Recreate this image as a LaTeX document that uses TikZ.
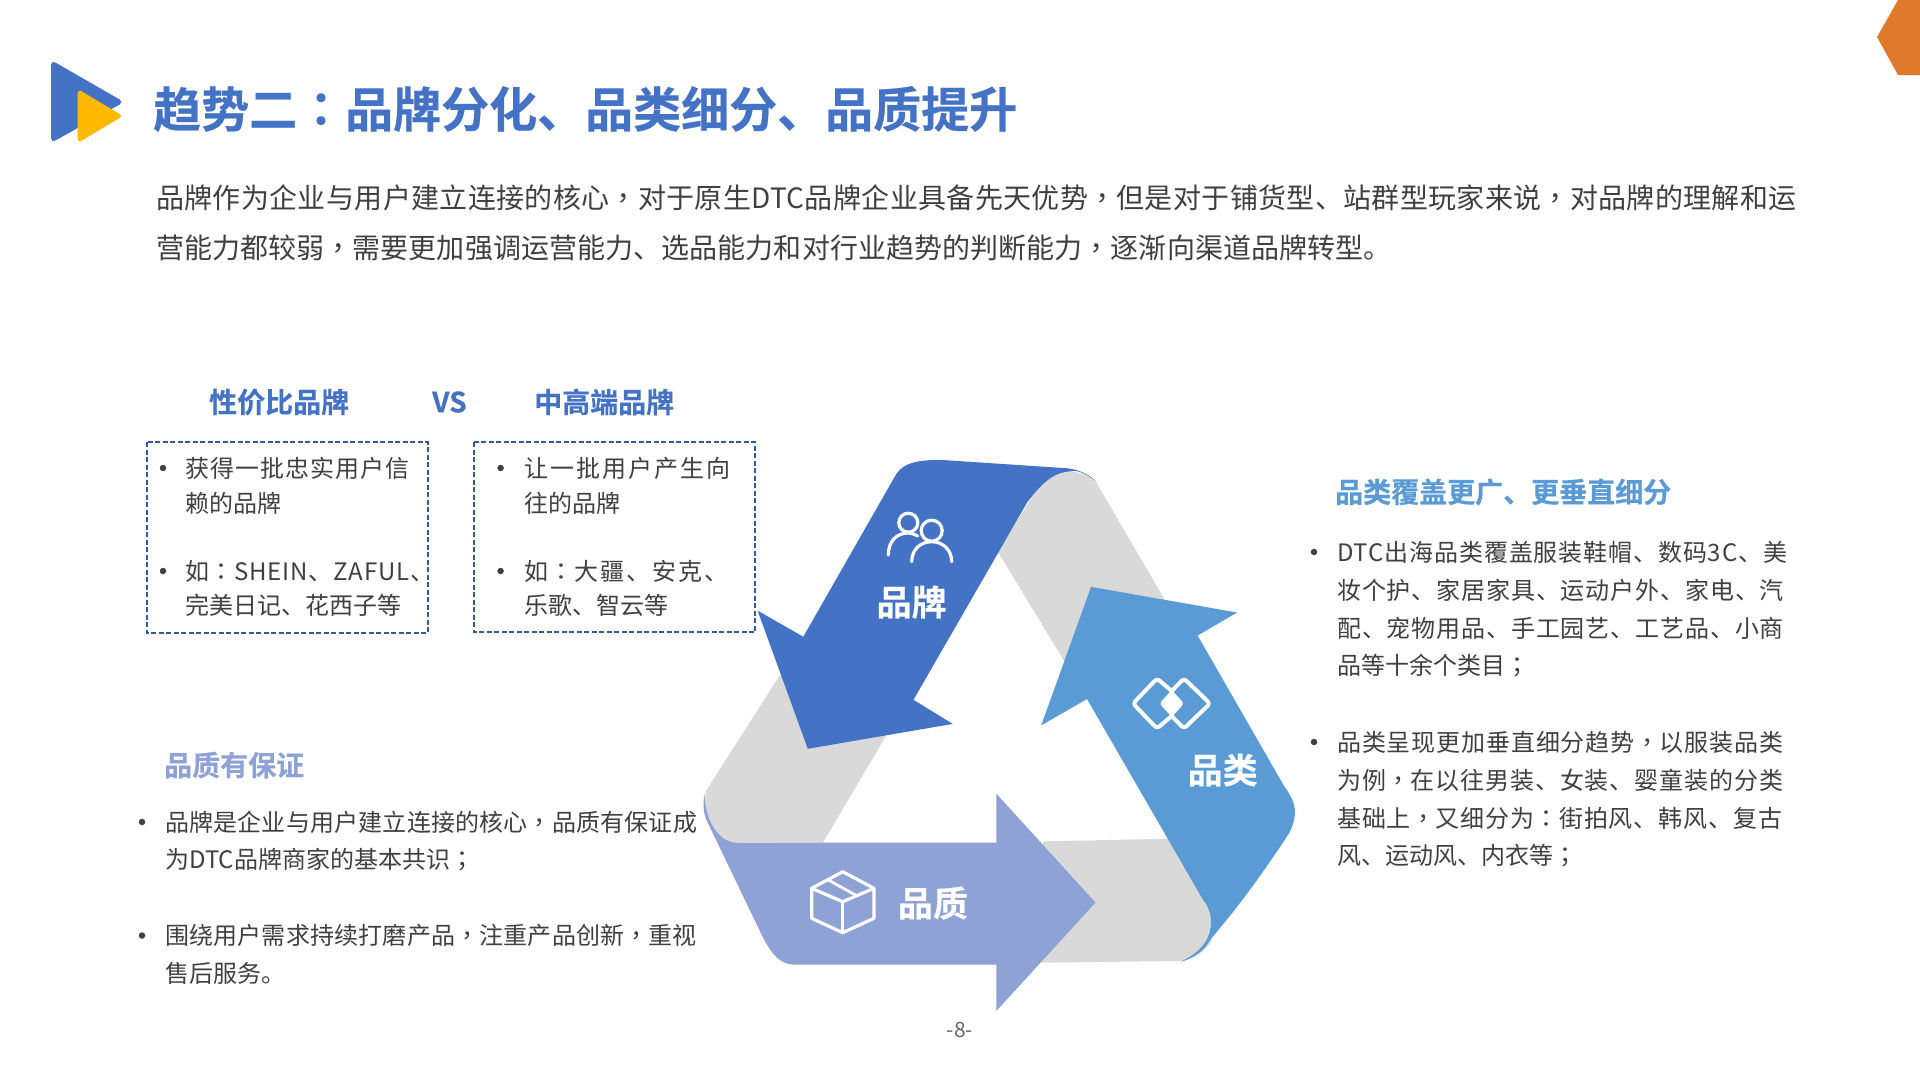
\documentclass[tikz,border=0pt]{standalone}
\usepackage{fontspec}
\setmainfont{Noto Sans CJK SC}[BoldFont={Noto Sans CJK SC Bold}]
\newfontfamily\tcf{Noto Sans CJK TC}[BoldFont={Noto Sans CJK TC Bold}]
\def\pcf{0}
\newcommand\pc[1]{\hbox to \dimexpr1em+\pcf\fontdimen6\font/100\relax{\hss\tcf #1\hss}}
\definecolor{bluedark}{HTML}{4472C4}
\definecolor{bluelight}{HTML}{5B9BD5}
\definecolor{peri}{HTML}{8FA2D6}
\definecolor{band}{HTML}{D9D9D9}
\definecolor{body}{HTML}{404040}
\definecolor{boxline}{HTML}{34589C}
\definecolor{amber}{HTML}{FFB900}
\definecolor{hexo}{HTML}{DF7A2C}
\tikzset{
 ln/.style={anchor=west,inner sep=0pt,text=body,font=\fontsize{24}{25}\selectfont\addfontfeature{LetterSpace=#1}\def\pcf{#1}},
 ln/.default=0,
 bd/.style={anchor=west,inner sep=0pt,text=body,font=\fontsize{28}{30}\selectfont\addfontfeature{LetterSpace=#1}\def\pcf{#1}},
 hd/.style={anchor=west,inner sep=0pt,text=bluedark,font=\fontsize{28}{30}\bfseries\selectfont\addfontfeature{FakeBold=0.3}},
 lbl/.style={inner sep=0pt,text=white,font=\fontsize{35}{35}\bfseries\selectfont\addfontfeature{FakeBold=0.4}},
 dot/.style={circle,fill=body,inner sep=0pt,minimum size=6.5pt},
 dbox/.style={draw=boxline,line width=2pt,dash pattern=on 5pt off 2.5pt},
 ico/.style={draw=white,line width=3.2pt,line cap=round,line join=round}
}
\begin{document}
\begin{tikzpicture}[x=1pt,y=-1pt]
\useasboundingbox (0,0) rectangle (1920,1080);
\fill[white] (0,0) rectangle (1920,1080);
% corner hexagon
\fill[hexo] (1920,0) -- (1898,0) -- (1877,37) -- (1898,75) -- (1920,75) -- cycle;
% logo
\fill[bluedark,rounded corners=5pt] (51,60) -- (124,102) -- (51,143) -- cycle;
\fill[amber,rounded corners=4pt] (77.7,89) -- (123,116) -- (77.7,143) -- cycle;
% title and paragraph
\node[anchor=west,inner sep=0pt,text=bluedark,font=\fontsize{48}{50}\bfseries\selectfont\addfontfeature{FakeBold=0.5}] (title) at (153,109) {趋势二\pc{：}品牌分化、品类细分、品质提升};
\node[bd=1.3] (p1) at (156,198) {品牌作为企业与用户建立连接的核心\pc{，}对于原生DTC品牌企业具备先天优势\pc{，}但是对于铺货型、站群型玩家来说\pc{，}对品牌的理解和运};
\node[bd=0.3] (p2) at (156,248) {营能力都较弱\pc{，}需要更加强调运营能力、选品能力和对行业趋势的判断能力\pc{，}逐渐向渠道品牌转型。};
% comparison
\node[hd] (h1) at (209,402) {性价比品牌};
\node[hd] (h2) at (432,402) {VS};
\node[hd] (h3) at (534,402) {中高端品牌};
\draw[dbox] (147,442) rectangle (427.5,633);
\draw[dbox] (474,442) rectangle (755,632);
\node[dot] (a1) at (163,468) {};
\node[ln=4.2] (a1t) at (185,468) {获得一批忠实用户信};
\node[ln] (a2t) at (185,503) {赖的品牌};
\node[dot] (a3) at (163,571) {};
\node[ln=3.75] (a3t) at (185,571) {如\pc{：}SHEIN、ZAFUL、};
\node[ln] (a4t) at (185,605) {完美日记、花西子等};
\node[dot] (b1) at (500.6,468) {};
\node[ln=8.5] (b1t) at (524,468) {让一批用户产生向};
\node[ln] (b2t) at (524,503) {往的品牌};
\node[dot] (b3) at (500.6,571) {};
\node[ln=8.5] (b3t) at (524,571) {如\pc{：}大疆、安克、};
\node[ln] (b4t) at (524,605) {乐歌、智云等};
% left text
\node[hd,text=peri] (q) at (164,765) {品质有保证};
\node[dot] (c1) at (142,822) {};
\node[ln=0.8] (c1t) at (165,822) {品牌是企业与用户建立连接的核心\pc{，}品质有保证成};
\node[ln] (c2t) at (165,860) {为DTC品牌商家的基本共识\pc{；}};
\node[dot] (c3) at (142,935.5) {};
\node[ln=0.8] (c3t) at (165,935.5) {围绕用户需求持续打磨产品\pc{，}注重产品创新\pc{，}重视};
\node[ln] (c4t) at (165,973.5) {售后服务。};
% right text
\node[hd,text=bluelight] (r) at (1335,492) {品类覆盖更广、更垂直细分};
\node[dot] (d1) at (1314,552) {};
\node[ln=3.6] (e1) at (1337,552) {DTC出海品类覆盖服装鞋帽、数码3C、美};
\node[ln=3.6] (e2) at (1337,590) {妆个护、家居家具、运动户外、家电、汽};
\node[ln=3.6] (e3) at (1337,628) {配、宠物用品、手工园艺、工艺品、小商};
\node[ln] (e4) at (1337,666) {品等十余个类目\pc{；}};
\node[dot] (d2) at (1314,742) {};
\node[ln=3.6] (f1) at (1337,742) {品类呈现更加垂直细分趋势\pc{，}以服装品类};
\node[ln=3.6] (f2) at (1337,780) {为例\pc{，}在以往男装、女装、婴童装的分类};
\node[ln=3.6] (f3) at (1337,818) {基础上\pc{，}又细分为\pc{：}街拍风、韩风、复古};
\node[ln] (f4) at (1337,856) {风、运动风、内衣等\pc{；}};
% grey bands
\fill[band] (1039,486) .. controls (1052,472) and (1080,465) .. (1096,482) -- (1200,660) -- (1100,720) -- (998,552) -- cycle;
\fill[band] (780,675) -- (706.5,790) .. controls (700,815) and (710,842) .. (737,842) -- (823,842.5) -- (886,736) -- cycle;
\fill[band] (1043,841.4) -- (1168,838.7) -- (1215,900) -- (1212,940) .. controls (1205,952) and (1195,958) .. (1180,961) -- (1041,962.7) -- cycle;
% arrows
\fill[bluedark] (757.6,610.6) -- (803.3,636.7) -- (896.3,474) .. controls (904,462) and (920,459.9) .. (941,459.9) -- (1067.8,468.3) .. controls (1080,470) and (1090,475) .. (1096.3,481.7) .. controls (1085,472) and (1075,470) .. (1071.8,471.3) .. controls (1055,472) and (1044,480) .. (1027,502.7) -- (913.5,699.8) -- (952.7,723.9) -- (807.8,748.8) -- cycle;
\fill[bluelight] (1091,586.9) -- (1237.1,612.5) -- (1197.6,635.5) -- (1284,785.9) .. controls (1298,805) and (1297,815) .. (1290,831.8) .. controls (1265,870) and (1240,905) .. (1210.6,939) .. controls (1205,950) and (1195,958) .. (1180,962) .. controls (1195,955) and (1208,945) .. (1210.6,927.5) .. controls (1212,918) and (1210,908) .. (1202.4,898.8) -- (1087,699) -- (1041.2,725.4) -- cycle;
\fill[peri] (704.5,793.6) .. controls (705,820) and (718,842.5) .. (737,842.5) -- (996.3,842.5) -- (996.3,793.6) -- (1095.5,902.6) -- (996.3,1011) -- (996.3,964.6) -- (794.3,964.6) .. controls (778,964.6) and (770,950) .. (763.7,939) -- (706.5,820) .. controls (703,812) and (703,803) .. (704.5,793.6) -- cycle;
% arrow labels
\node[lbl] (n1) at (911.6,602) {品牌};
\node[lbl] (n2) at (1222.7,770) {品类};
\node[lbl] (n3) at (933,903) {品质};
% users icon
\draw[ico] (908.3,522.7) circle (9.5);
\draw[ico] (931.7,530.7) circle (10.5);
\draw[ico] (888.3,555) .. controls (888.3,542) and (896,533) .. (908,533) .. controls (911,533) and (915,534.5) .. (917.7,536);
\draw[ico] (911.7,561.7) .. controls (911.7,550) and (920,541.7) .. (931.7,541.7) .. controls (943,541.7) and (951.7,550) .. (951.7,561.7);
% tag icon
\draw[ico,line width=4pt,rounded corners=3pt] (1171.7,691) -- (1157,678.5) -- (1133,703.5) -- (1157,728.5) -- (1171.7,716);
\draw[ico,line width=4pt,rounded corners=3pt] (1171.7,716) -- (1184,728.5) -- (1210,703.5) -- (1184,678.5) -- (1171.7,691);
\fill[white,rounded corners=2pt] (1171.7,690) -- (1184,703.5) -- (1171.7,717) -- (1159.5,703.5) -- cycle;
% box icon
\draw[ico] (842.7,871.7) -- (874,888.3) -- (874,918.3) -- (842.7,932.7) -- (811.7,918.3) -- (811.7,888.3) -- cycle;
\draw[ico] (811.7,888.3) -- (842.7,901.7) -- (874,888.3);
\draw[ico] (842.7,901.7) -- (842.7,932.7);
\draw[ico,line width=2.8pt] (828.3,880) -- (857.3,896);
% page number
\node[inner sep=0pt,text=body!80,font=\fontsize{21}{22}\selectfont] (pg) at (960,1030) {-8-};
\end{tikzpicture}
\end{document}
